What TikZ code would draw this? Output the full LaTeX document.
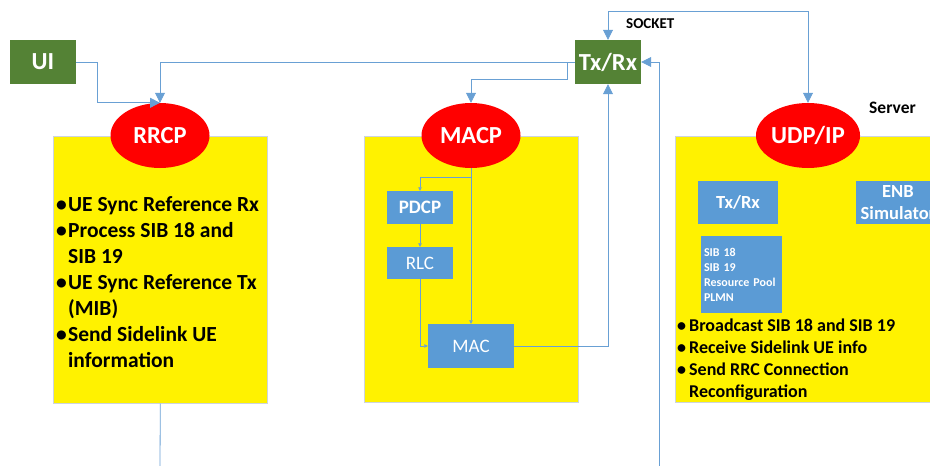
\documentclass[tikz,border=0pt]{standalone}
\usepackage{fontspec}
\setmainfont{Carlito}
\usetikzlibrary{arrows.meta, positioning, shapes.geometric}
\definecolor{leafGreen}{RGB}{84,130,53}
\definecolor{skyBlue}{RGB}{91,155,213}
\definecolor{lineBlue}{RGB}{105,160,212}
\definecolor{panelEdge}{RGB}{205,212,222}
\newcommand{\bitem}{\makebox[12pt][l]{\textbullet}}
\newcommand{\bgap}{\hspace*{12pt}}

\begin{document}
\begin{tikzpicture}[x=1pt, y=-1pt,
  wire/.style={draw=lineBlue, line width=0.8pt},
  arr/.style={wire, -{Triangle[length=10pt,width=10pt]}},
  dblarr/.style={wire, {Triangle[length=10pt,width=10pt]}-{Triangle[length=10pt,width=10pt]}},
  tinyarr/.style={wire, line width=0.6pt, -{Triangle[length=3.5pt,width=3.5pt]}},
  panel/.style={rectangle, draw=panelEdge, line width=0.6pt, fill=yellow, anchor=north west,
                inner sep=0pt, minimum width=214pt, minimum height=267pt},
  proto/.style={ellipse, fill=red, text=white, minimum width=99pt, minimum height=65pt,
                inner sep=0pt, font=\fontsize{24.5}{28}\selectfont\bfseries},
  hub/.style={rectangle, fill=leafGreen, text=white, minimum width=66pt, minimum height=44pt,
              inner sep=0pt, font=\fontsize{24.5}{28}\selectfont\bfseries},
  layer/.style={rectangle, fill=skyBlue, text=white, inner sep=0pt, font=\fontsize{19}{22}\selectfont},
  notes/.style={anchor=north west, inner sep=0pt, align=left},
  lbl/.style={anchor=west, inner sep=0pt}
]
  \useasboundingbox (0,0) rectangle (930,466);
  \clip (0,0) rectangle (930,466);

  % yellow panels
  \node[panel] (rrcpbox) at (53,136) {};
  \node[panel, minimum height=266pt] (macpbox) at (364,136) {};
  \node[panel, minimum width=265pt, minimum height=266pt] (srvbox) at (675,136) {};

  % protocol ellipses
  \node[proto] (rrcp) at (160,135.5) {RRCP};
  \node[proto] (macp) at (471,135.5) {MACP};
  \node[proto] (udp) at (808,135.5) {UDP/IP};

  \node[hub] (ui) at (43,62) {UI};
  \node[hub] (txrx) at (608,62) {Tx/Rx};

  \node[lbl, font=\fontsize{15}{17}\selectfont\bfseries] (sock) at (626,24) {SOCKET};
  \node[lbl, font=\fontsize{17.5}{19}\selectfont\bfseries] (srv) at (869,108) {Server};

  % RRCP tasks
  \node[notes, font=\fontsize{21.5}{26}\selectfont\bfseries] (rrcptxt) at (56,196) {%
    \bitem UE Sync Reference Rx\\
    \bitem Process SIB 18 and\\
    \bgap SIB 19\\
    \bitem UE Sync Reference Tx\\
    \bgap (MIB)\\
    \bitem Send Sidelink UE\\
    \bgap information};

  % MACP layers
  \node[layer, font=\fontsize{19}{22}\selectfont\bfseries, minimum width=66pt, minimum height=33pt]
    (pdcp) at (420,207.5) {PDCP};
  \node[layer, minimum width=66pt, minimum height=32pt] (rlc) at (420,263) {RLC};
  \node[layer, minimum width=86pt, minimum height=44pt] (mac) at (471,346) {MAC};

  % server blocks
  \node[layer, font=\fontsize{18.5}{22}\selectfont\bfseries, minimum width=80pt, minimum height=43pt]
    (srvtx) at (738,202.5) {Tx/Rx};
  \node[layer, font=\fontsize{18.5}{22}\selectfont\bfseries, minimum width=84pt, minimum height=43pt,
        align=center] (enb) at (898,202.5) {ENB\\Simulator};
  \node[layer, font=\fontsize{12}{15}\selectfont\bfseries, minimum width=81pt, minimum height=77pt,
        text width=75pt, inner sep=3pt, align=left] (sib) at (741.5,274.5)
    {SIB 18\\SIB 19\\Resource Pool\\PLMN};

  \node[notes, font=\fontsize{18}{22}\selectfont\bfseries] (srvtxt) at (677,319) {%
    \bitem Broadcast SIB 18 and SIB 19\\
    \bitem Receive Sidelink UE info\\
    \bitem Send RRC Connection\\
    \bgap Reconfiguration};

  % connectors
  \coordinate (drop) at (160,466);
  \coordinate (feed) at (659,466);
  \coordinate (fork) at (471,177);

  \draw[arr] (ui.east) -- ++(21,0) |- (rrcp.north);
  \draw[arr] (txrx.west) -| (rrcp.north);
  \draw[arr] (txrx.west) -- ++(-7,0) -- ++(0,17) -| (macp.north);
  \draw[dblarr] (txrx.north) -- ++(0,-28) -| (udp.north);
  \draw[arr] (mac.east) -| (txrx.south);
  \draw[arr] (feed) |- (txrx.east);
  \draw[wire] (rrcpbox.south) -- (drop);

  \draw[tinyarr] (macp.south) -- (mac.north);
  \draw[tinyarr] (fork) -| (pdcp.north);
  \draw[tinyarr] (pdcp) -- (rlc);
  \draw[tinyarr] (rlc.south) |- (mac.west);
\end{tikzpicture}
\end{document}
